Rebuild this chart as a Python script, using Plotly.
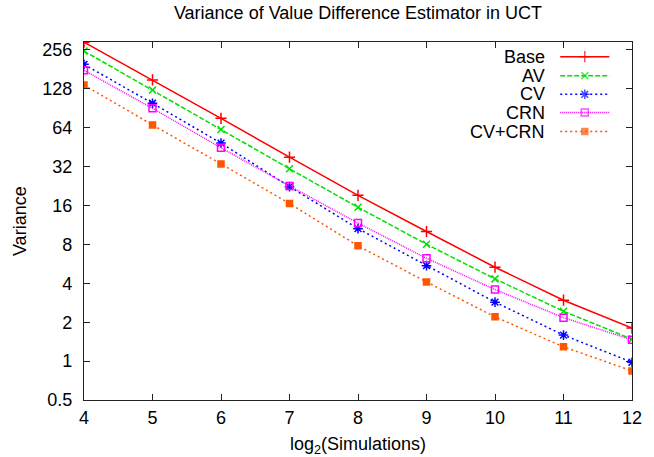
import plotly.graph_objects as go
import math

# ---- data ----
x_log2_sims = [4, 5, 6, 7, 8, 9, 10, 11, 12]
base   = [294, 150, 75.7, 37.9, 19.2, 10.07, 5.33, 2.96, 1.80]
av     = [251, 125.5, 62.0, 30.8, 15.5, 8.03, 4.33, 2.43, 1.48]
cv     = [198, 99.0, 48.7, 22.4, 10.6, 5.48, 2.86, 1.59, 0.98]
crn    = [178, 90.5, 44.8, 22.7, 11.7, 6.25, 3.58, 2.17, 1.46]
cv_crn = [137, 67.3, 33.6, 16.6, 7.8, 4.1, 2.2, 1.29, 0.84]

series_names = ["Base", "AV", "CV", "CRN", "CV+CRN"]
y_tick_vals = [0.5, 1, 2, 4, 8, 16, 32, 64, 128, 256]
y_tick_text = ["0.5", "1", "2", "4", "8", "16", "32", "64", "128", "256"]
x_tick_vals = [4, 5, 6, 7, 8, 9, 10, 11, 12]

styles = [
    dict(color="#ff0000", dash="solid", symbol="cross-thin", size=8),
    dict(color="#00e000", dash="5px,2px", symbol="x-thin", size=7),
    dict(color="#0000ff", dash="2px,3px", symbol="asterisk", size=8),
    dict(color="#ff00ff", dash="1px,1px", symbol="square-open", size=7),
    dict(color="#ff5500", dash="2px,3px", symbol="square", size=6),
]

FONT = "Liberation Sans, Arial, Helvetica, sans-serif"
FS = 18

fig = go.Figure()
all_series = [base, av, cv, crn, cv_crn]
for name, ys, st in zip(series_names, all_series, styles):
    fig.add_trace(go.Scatter(
        x=x_log2_sims, y=ys, name=name, mode="lines+markers",
        line=dict(color=st["color"], width=1.5, dash=st["dash"]),
        marker=dict(symbol=st["symbol"], size=st["size"], color=st["color"],
                    line=dict(color=st["color"], width=1.5)),
        showlegend=False,
    ))

# ---- gnuplot-style key: text right-aligned, sample line to the right ----
key_text_x = 0.8456
key_line_x0, key_line_x1 = 0.869, 0.9587
key_y = [0.959, 0.906, 0.854, 0.803, 0.750]
for name, st, ky in zip(series_names, styles, key_y):
    fig.add_trace(go.Scatter(
        x=[key_line_x0, (key_line_x0 + key_line_x1) / 2, key_line_x1],
        y=[ky, ky, ky], mode="lines+markers", xaxis="x2", yaxis="y2",
        line=dict(color=st["color"], width=1.5, dash=st["dash"]),
        marker=dict(symbol=st["symbol"], size=[0, st["size"], 0], color=st["color"],
                    line=dict(color=st["color"], width=1.5)),
        showlegend=False, hoverinfo="skip",
    ))
    fig.add_annotation(x=key_text_x, y=ky, xref="paper", yref="paper",
                       text=name, showarrow=False, xanchor="right", yanchor="middle",
                       font=dict(family=FONT, size=FS, color="black"))

# axis titles placed like gnuplot
fig.add_annotation(x=0.5, y=-0.1257, xref="paper", yref="paper",
                   text="log<sub>2</sub>(Simulations)", showarrow=False,
                   xanchor="center", yanchor="middle",
                   font=dict(family=FONT, size=FS, color="black"))
fig.add_annotation(x=-0.1167, y=0.5, xref="paper", yref="paper",
                   text="Variance", showarrow=False, textangle=-90,
                   xanchor="center", yanchor="middle",
                   font=dict(family=FONT, size=FS, color="black"))

axis_common = dict(showline=True, linecolor="#222222", linewidth=1.2, mirror="ticks",
                   ticks="inside", ticklen=6, tickwidth=1, tickcolor="#222222",
                   showgrid=False, zeroline=False,
                   tickfont=dict(family=FONT, size=FS, color="black"))

fig.update_layout(
    width=654, height=457,
    margin=dict(l=84, r=13, t=42, b=57),
    paper_bgcolor="white", plot_bgcolor="white",
    font=dict(family=FONT, size=FS, color="black"),
    hovermode=False,
    title=dict(text="Variance of Value Difference Estimator in UCT",
               x=0.5, xref="paper", y=1 - 13 / 457, yref="container",
               xanchor="center", yanchor="middle",
               font=dict(family=FONT, size=FS, color="black")),
    xaxis=dict(range=[4, 12], tickvals=x_tick_vals, ticklabelstandoff=1,
               **axis_common),
    yaxis=dict(type="log", range=[math.log10(0.5), math.log10(295)],
               tickvals=y_tick_vals, ticktext=y_tick_text, ticklabelstandoff=7,
               **axis_common),
    xaxis2=dict(range=[0, 1], overlaying="x", visible=False, fixedrange=True),
    yaxis2=dict(range=[0, 1], overlaying="y", visible=False, fixedrange=True),
)

fig.write_html("out.html",
               config={"displayModeBar": False, "staticPlot": True},
               post_script="document.body.style.margin='0';document.body.style.overflow='hidden';")
